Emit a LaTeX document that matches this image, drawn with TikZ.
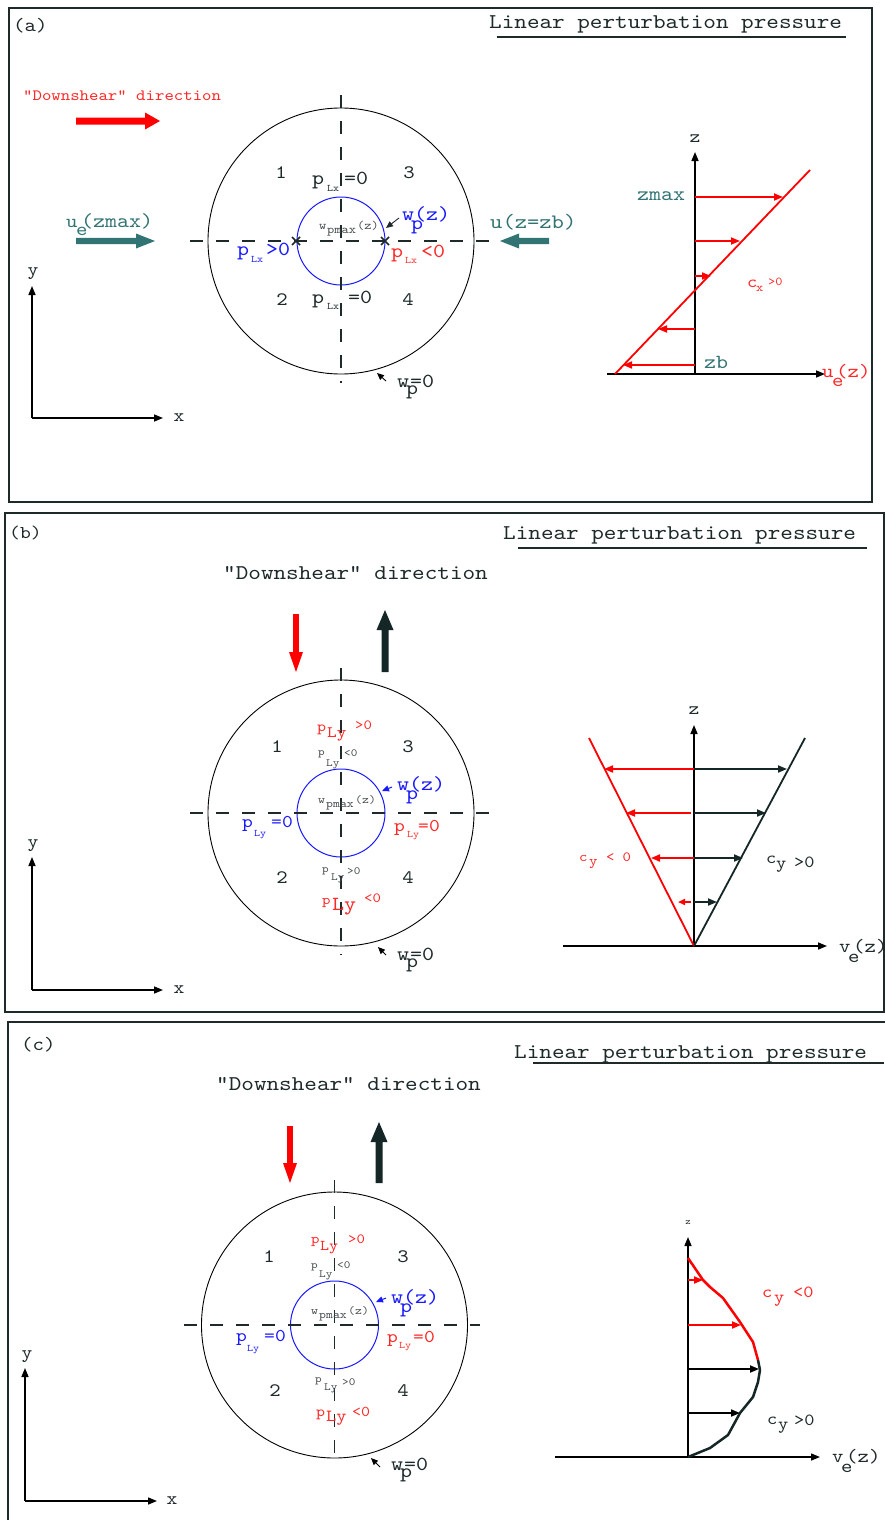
\documentclass[tikz,border=0pt]{standalone}
\usepackage{fontspec}
\newfontfamily\courf{lmmono10-regular.otf}[FakeStretch=1.143]
\usetikzlibrary{arrows.meta}
\definecolor{ink}{RGB}{30,42,42}
\definecolor{dk}{RGB}{20,38,38}
\definecolor{teal2}{RGB}{50,115,115}
\definecolor{rd}{RGB}{255,0,0}
\definecolor{rdt}{RGB}{255,40,40}
\definecolor{bl}{RGB}{25,25,255}
\definecolor{gr}{RGB}{70,76,76}
\newcommand{\fsz}[1]{\courf\fontsize{#1}{#1}\selectfont}
\newcommand{\tpc}[3]{\rlap{\raisebox{#2}{#3}}\hspace{#1}}
\tikzset{
 lbl/.style={inner sep=0pt, anchor=base west, text=ink},
 num/.style={inner sep=0pt, text=ink, font=\fsz{19}},
 axl/.style={inner sep=0pt, text=ink, font=\fsz{18}},
 frm/.style={draw=ink, line width=2pt},
 uline/.style={draw=ink, line width=2.2pt},
 dax/.style={draw=ink, line width=1.6pt, dash pattern=on 13pt off 13pt},
 ring/.style={circle, draw=black, line width=0.9pt, inner sep=0pt, minimum size=266pt},
 bring/.style={circle, draw=bl, line width=1pt, inner sep=0pt, minimum size=88pt},
 axis/.style={draw=black, line width=1.5pt, -{Triangle[length=9pt,width=7pt]}},
 rarr/.style={draw=rd, line width=1.8pt, -{Triangle[length=9pt,width=7pt]}},
 karr/.style={draw=dk, line width=1.8pt, -{Triangle[length=9pt,width=7pt]}},
 ptr/.style={draw=black, line width=0.9pt, -{Triangle[length=7pt,width=6pt]}},
 bptr/.style={draw=bl, line width=1pt, -{Triangle[length=7pt,width=6pt]}},
 xmark/.style={draw=ink, line width=1.5pt},
}
\begin{document}
\begin{tikzpicture}[x=1pt,y=-1pt]
\useasboundingbox (0,0) rectangle (884,1520);
\fill[white] (0,0) rectangle (884,1520);

%%%%%%%%%%%%%%%% (a)
\draw[frm] (9,8) rectangle (872,502);
\node[lbl, font=\fsz{19}] (a-tag) at (13,32) {(a)};
\node[lbl, font=\fsz{21}] (a-title) at (489,29) {Linear perturbation pressure};
\draw[uline] (497,37) -- (846,37);
\node[lbl, text=rdt, font=\fsz{15.7}] (a-ds) at (23,100) {"Downshear" direction};
\fill[rd] (76,117.5) -- (145,117.5) -- (145,112.5) -- (160,121) -- (145,129.5) -- (145,124.5) -- (76,124.5) -- cycle;
\fill[teal2] (76,237.8) -- (136,237.8) -- (136,233.5) -- (155,241) -- (136,248.5) -- (136,244.2) -- (76,244.2) -- cycle;
\fill[teal2] (549,237.8) -- (519,237.8) -- (519,233.5) -- (500,241) -- (519,248.5) -- (519,244.2) -- (549,244.2) -- cycle;
\node[lbl, text=teal2] (a-uzmax) at (66,227) {\tpc{10pt}{0pt}{\fsz{19}u}\tpc{5pt}{-8pt}{\fsz{19}e}{\fsz{20}(zmax)}};
\node[lbl, text=teal2, font=\fsz{20.5}] (a-uzb) at (490,228) {u(z=zb)};

\node[ring] (a-outer) at (341,241) {};
\node[bring] (a-inner) at (341,241) {};
\draw[dax] (190,241) -- (490,241);
\draw[dax] (341,95) -- (341,383);
\draw[xmark] (292,237) -- (300,245) (292,245) -- (300,237);
\draw[xmark] (381,237) -- (389,245) (381,245) -- (389,237);

\node[num] (a-n1) at (281,173) {1};
\node[num] (a-n3) at (409,173) {3};
\node[num] (a-n2) at (282,300) {2};
\node[num] (a-n4) at (408,300) {4};

\node[lbl] (a-p1) at (312,184) {\tpc{15pt}{0pt}{\fsz{20}p}\tpc{17pt}{-7pt}{\fsz{10}Lx}{\fsz{20}=0}};
\node[lbl] (a-p2) at (312,303) {\tpc{15pt}{0pt}{\fsz{20}p}\tpc{21pt}{-6pt}{\fsz{10}Lx}{\fsz{20}=0}};
\node[lbl, text=bl] (a-p3) at (237,255) {\tpc{14pt}{0pt}{\fsz{20}p}\tpc{15pt}{-7pt}{\fsz{10}Lx}{\fsz{20}>0}};
\node[lbl, text=rdt] (a-p4) at (391,257) {\tpc{14pt}{0pt}{\fsz{20}p}\tpc{16pt}{-6pt}{\fsz{10}Lx}{\fsz{20}<0}};
\node[lbl, text=gr] (a-wmax) at (319,229) {\tpc{8pt}{0pt}{\fsz{12}w}\tpc{30pt}{-4pt}{\fsz{12}pmax}{\fsz{12}(z)}};
\node[lbl, text=bl] (a-wp) at (402,220) {\tpc{9pt}{0pt}{\fsz{20}w}\tpc{3pt}{-9pt}{\fsz{20}p}{\fsz{20}(z)}};
\coordinate (a-wps) at (399,218);
\coordinate (a-wpe) at (386,228);
\draw[ptr, draw=ink] (a-wps) -- (a-wpe);
\node[lbl] (a-w0) at (397,387) {\tpc{9pt}{0pt}{\fsz{20}w}\tpc{4pt}{-7pt}{\fsz{20}p}{\fsz{20}=0}};
\coordinate (a-w0s) at (386,381);
\coordinate (a-w0e) at (377,373);
\draw[ptr] (a-w0s) -- (a-w0e);

% xy axes
\coordinate (a-o) at (32,418);
\coordinate (a-ytip) at (32,286);
\coordinate (a-xtip) at (163,418);
\draw[axis] (a-o) -- (a-ytip);
\draw[axis] (a-o) -- (a-xtip);
\node[axl] (a-y) at (33,274) {y};
\node[axl] (a-x) at (179,418) {x};

% profile graph
\coordinate (ga-o) at (695,374);
\draw[axis] (ga-o) -- (695,152);
\draw[axis] (607,374) -- (825,374);
\node[axl] (a-z) at (695,139) {z};
\draw[rd, line width=1.8pt] (615,374) -- (810,170);
\draw[rarr] (695,197) -- (783,197);
\draw[rarr] (695,241) -- (740,241);
\draw[rarr] (695,276) -- (711,276);
\draw[rarr] (695,329) -- (658,329);
\draw[rarr] (695,365) -- (623,365);
\node[anchor=west, inner sep=0pt, text=teal2, font=\fsz{20}] (a-zmax) at (637,196) {zmax};
\node[lbl, text=teal2, font=\fsz{20}] (a-zb) at (704,368) {zb};
\node[lbl, text=rdt] (a-cx) at (747,287) {\tpc{9pt}{0pt}{\fsz{17}c}\tpc{12pt}{-4pt}{\fsz{12}x}\raisebox{2pt}{\fsz{12}>0}};
\node[lbl, text=rdt] (a-ue) at (822,377) {\tpc{10pt}{0pt}{\fsz{19}u}\tpc{4pt}{-9pt}{\fsz{19}e}{\fsz{19}(z)}};

%%%%%%%%%%%%%%%% (b)
\draw[frm] (5,513) rectangle (884,1012);
\node[lbl, font=\fsz{18}] (b-tag) at (9,538) {(b)};
\node[lbl, font=\fsz{21}] (b-title) at (503,539) {Linear perturbation pressure};
\draw[uline] (518,548) -- (867,548);
\node[lbl, font=\fsz{21}] (b-ds) at (223,579) {"Downshear" direction};
\fill[rd] (293.2,614) -- (293.2,652) -- (289,652) -- (296,672) -- (303,652) -- (298.8,652) -- (298.8,614) -- cycle;
\fill[dk] (381.5,672) -- (381.5,630) -- (376.5,630) -- (385,610) -- (393.5,630) -- (388.5,630) -- (388.5,672) -- cycle;

\node[ring] (b-outer) at (341,813) {};
\node[bring] (b-inner) at (341,813) {};
\draw[dax] (190,813) -- (490,813);
\draw[dax] (341,668) -- (341,955);

\node[num] (b-n1) at (277,747) {1};
\node[num] (b-n3) at (408,747) {3};
\node[num] (b-n2) at (282,878) {2};
\node[num] (b-n4) at (408,878) {4};

\node[lbl, text=rdt] (b-p1) at (317,731) {\tpc{10pt}{0pt}{\fsz{15}p}\tpc{28pt}{-6pt}{\fsz{16}Ly}\raisebox{2pt}{\fsz{14}>0}};
\node[lbl, text=gr] (b-p2) at (318,755) {\tpc{8pt}{0pt}{\fsz{11}p}\tpc{18pt}{-11pt}{\fsz{11}Ly}\raisebox{-1pt}{\fsz{11}<0}};
\node[lbl, text=gr] (b-wmax) at (318,803) {\tpc{8pt}{0pt}{\fsz{11.5}w}\tpc{29pt}{-4pt}{\fsz{11.5}pmax}{\fsz{11.5}(z)}};
\node[lbl, text=bl] (b-wp) at (397,790) {\tpc{9pt}{0pt}{\fsz{20}w}\tpc{3pt}{-9pt}{\fsz{20}p}{\fsz{20}(z)}};
\coordinate (b-wps) at (392,787);
\coordinate (b-wpe) at (382,791);
\draw[bptr] (b-wps) -- (b-wpe);
\node[lbl, text=bl] (b-p3) at (242,827) {\tpc{12pt}{0pt}{\fsz{18}p}\tpc{17pt}{-9pt}{\fsz{10}Ly}{\fsz{18}=0}};
\node[lbl, text=rdt] (b-p4) at (394,831) {\tpc{13pt}{0pt}{\fsz{18}p}\tpc{11pt}{-6pt}{\fsz{10}Ly}{\fsz{18}=0}};
\node[lbl, text=gr] (b-p5) at (322,872) {\tpc{9pt}{0pt}{\fsz{11}p}\tpc{16pt}{-8pt}{\fsz{11}Ly}\raisebox{-2pt}{\fsz{11}>0}};
\node[lbl, text=rdt] (b-p6) at (322,904) {\tpc{10pt}{0pt}{\fsz{14}p}\tpc{32pt}{-6pt}{\fsz{20}Ly}\raisebox{2pt}{\fsz{14}<0}};
\node[lbl] (b-w0) at (397,960) {\tpc{9pt}{0pt}{\fsz{20}w}\tpc{4pt}{-7pt}{\fsz{20}p}{\fsz{20}=0}};
\coordinate (b-w0s) at (386,955);
\coordinate (b-w0e) at (378,947);
\draw[ptr] (b-w0s) -- (b-w0e);

\coordinate (b-o) at (32,990);
\coordinate (b-ytip) at (32,857);
\coordinate (b-xtip) at (163,990);
\draw[axis] (b-o) -- (b-ytip);
\draw[axis] (b-o) -- (b-xtip);
\node[axl] (b-y) at (33,846) {y};
\node[axl] (b-x) at (179,990) {x};

\coordinate (gb-o) at (694,946);
\draw[axis] (gb-o) -- (694,725);
\draw[axis] (563,946) -- (827,946);
\node[axl] (b-z) at (694,711) {z};
\draw[rd, line width=1.8pt] (gb-o) -- (589,738);
\draw[dk, line width=1.8pt] (gb-o) -- (805,738);
\draw[rarr] (694,769) -- (604,769);
\draw[rarr] (691,813) -- (626,813);
\draw[rarr] (694,858) -- (651,858);
\draw[rd, line width=1.8pt, -{Triangle[length=7pt,width=6pt]}] (691,902) -- (678,902);
\draw[karr] (694,769) -- (787,769);
\draw[karr] (694,813) -- (766,813);
\draw[karr] (694,858) -- (743,858);
\draw[karr] (694,902) -- (717,902);
\node[lbl, text=rdt] (b-cy1) at (579,861) {\tpc{10pt}{0pt}{\fsz{14}c}\tpc{17pt}{-4pt}{\fsz{14}y}{\fsz{14}<\hspace{8pt}0}};
\node[lbl, text=ink] (b-cy2) at (766,863) {\tpc{10pt}{0pt}{\fsz{17}c}\tpc{18pt}{-5pt}{\fsz{17}y}\raisebox{-4pt}{\fsz{17}>0}};
\node[lbl, text=ink] (b-ve) at (839,952) {\tpc{9pt}{0pt}{\fsz{19}v}\tpc{5pt}{-10pt}{\fsz{19}e}{\fsz{19}(z)}};

%%%%%%%%%%%%%%%% (c)
\draw[frm] (8,1022) rectangle (900,1540);
\node[lbl, font=\fsz{19}] (c-tag) at (21,1050) {(c)};
\node[lbl, font=\fsz{21}] (c-title) at (514,1058) {Linear perturbation pressure};
\draw[uline] (533,1063) -- (884,1063);
\node[lbl, font=\fsz{21}] (c-ds) at (216,1090) {"Downshear" direction};
\fill[rd] (287.2,1126) -- (287.2,1163) -- (283,1163) -- (290,1183) -- (297,1163) -- (292.8,1163) -- (292.8,1126) -- cycle;
\fill[dk] (375.5,1183) -- (375.5,1142) -- (370.5,1142) -- (379,1122) -- (387.5,1142) -- (382.5,1142) -- (382.5,1183) -- cycle;

\node[ring] (c-outer) at (334.5,1325) {};
\node[bring] (c-inner) at (334.5,1325) {};
\draw[dax] (184,1325) -- (480,1325);
\draw[dax] (334.5,1180) -- (334.5,1465);

\node[num] (c-n1) at (269,1257) {1};
\node[num] (c-n3) at (403,1257) {3};
\node[num] (c-n2) at (275,1391) {2};
\node[num] (c-n4) at (403,1391) {4};

\node[lbl, text=rdt] (c-p1) at (311,1243) {\tpc{9pt}{0pt}{\fsz{14}p}\tpc{28pt}{-7pt}{\fsz{15}Ly}{\fsz{14}>0}};
\node[lbl, text=gr] (c-p2) at (311,1268) {\tpc{8pt}{0pt}{\fsz{11}p}\tpc{18pt}{-9pt}{\fsz{11}Ly}{\fsz{11}<0}};
\node[lbl, text=gr] (c-wmax) at (311,1314) {\tpc{8pt}{0pt}{\fsz{11.5}w}\tpc{29pt}{-4pt}{\fsz{11.5}pmax}{\fsz{11.5}(z)}};
\node[lbl, text=bl] (c-wp) at (391,1303) {\tpc{9pt}{0pt}{\fsz{20}w}\tpc{3pt}{-9pt}{\fsz{20}p}{\fsz{20}(z)}};
\coordinate (c-wps) at (386,1298);
\coordinate (c-wpe) at (376,1302);
\draw[bptr] (c-wps) -- (c-wpe);
\node[lbl, text=bl] (c-p3) at (236,1341) {\tpc{11pt}{0pt}{\fsz{18}p}\tpc{17pt}{-10pt}{\fsz{10}Ly}{\fsz{18}=0}};
\node[lbl, text=rdt] (c-p4) at (387,1342) {\tpc{12pt}{0pt}{\fsz{18}p}\tpc{14pt}{-6pt}{\fsz{10}Ly}{\fsz{18}=0}};
\node[lbl, text=gr] (c-p5) at (315,1382) {\tpc{9pt}{0pt}{\fsz{11}p}\tpc{18pt}{-8pt}{\fsz{11}Ly}\raisebox{-3pt}{\fsz{11}>0}};
\node[lbl, text=rdt] (c-p6) at (316,1416) {\tpc{10pt}{0pt}{\fsz{15}p}\tpc{26pt}{-5pt}{\fsz{17}Ly}{\fsz{15}<0}};
\node[lbl] (c-w0) at (391,1470) {\tpc{9pt}{0pt}{\fsz{20}w}\tpc{4pt}{-7pt}{\fsz{20}p}{\fsz{20}=0}};
\coordinate (c-w0s) at (380,1467);
\coordinate (c-w0e) at (371,1458);
\draw[ptr] (c-w0s) -- (c-w0e);

\coordinate (c-o) at (25,1501);
\coordinate (c-ytip) at (25,1368);
\coordinate (c-xtip) at (157,1501);
\draw[axis] (c-o) -- (c-ytip);
\draw[axis] (c-o) -- (c-xtip);
\node[axl] (c-y) at (27,1357) {y};
\node[axl] (c-x) at (172,1501) {x};

\coordinate (gc-o) at (688,1457);
\draw[axis] (gc-o) -- (688,1237);
\draw[axis] (555,1457) -- (820,1457);
\node[inner sep=0pt, text=ink, font=\fsz{9}] (c-z) at (688,1223) {z};
\draw[rd, line width=2.5pt, line join=round] (688,1258) -- (703,1280) -- (710,1287) -- (723,1298) -- (740,1322) -- (753,1342) -- (758,1360);
\draw[dk, line width=2.5pt, line join=round] (758,1360) -- (760,1370) -- (758,1382) -- (753,1397) -- (740,1413) -- (728,1435) -- (710,1448) -- (gc-o);
\draw[rarr] (688,1280) -- (703,1280);
\draw[rarr] (688,1325) -- (741,1325);
\draw[karr, draw=black] (688,1369) -- (759,1369);
\draw[karr, draw=black] (688,1413) -- (740,1413);
\node[lbl, text=rdt] (c-cy1) at (762,1297) {\tpc{12pt}{0pt}{\fsz{17}c}\tpc{19pt}{-5pt}{\fsz{17}y}{\fsz{17}<0}};
\node[lbl, text=ink] (c-cy2) at (767,1424) {\tpc{11pt}{0pt}{\fsz{17}c}\tpc{16pt}{-5pt}{\fsz{17}y}\raisebox{-1pt}{\fsz{17}>0}};
\node[lbl, text=ink] (c-ve) at (832,1462) {\tpc{9pt}{0pt}{\fsz{19}v}\tpc{5pt}{-10pt}{\fsz{19}e}{\fsz{19}(z)}};
\end{tikzpicture}
\end{document}
